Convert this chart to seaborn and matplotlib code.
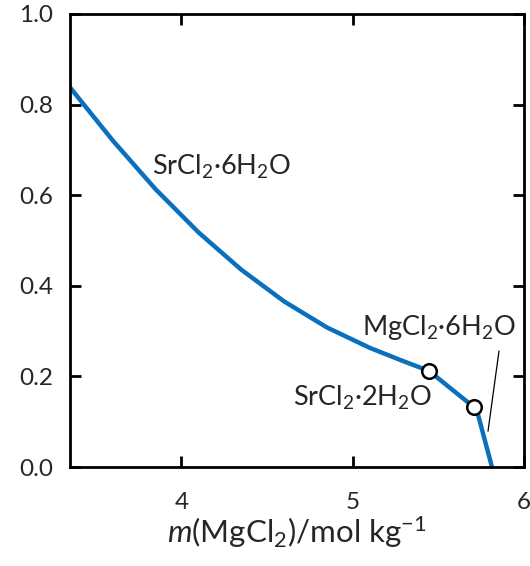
import matplotlib
matplotlib.use("Agg")
import matplotlib.pyplot as plt
import seaborn as sns
import pandas as pd

# solubility curve
m_mgcl2 = [3.35, 3.60, 3.85, 4.10, 4.35, 4.60, 4.85, 5.10, 5.30, 5.446,
           5.708, 5.732, 5.813]
m_srcl2 = [0.838, 0.7205, 0.613, 0.518, 0.4355, 0.3655, 0.308, 0.263, 0.233,
           0.212, 0.132, 0.115, 0.0]

# invariant points
inv_x = [5.446, 5.708]
inv_y = [0.212, 0.132]

# phase labels
phase_labels = [r"SrCl$_2$·6H$_2$O", r"MgCl$_2$·6H$_2$O", r"SrCl$_2$·2H$_2$O"]
label_x = [4.233, 5.504, 5.055]
label_y = [0.645, 0.291, 0.135]

# leader line for MgCl2.6H2O
leader_x = [5.854, 5.790]
leader_y = [0.256, 0.079]

sns.set_style("ticks")
plt.rcParams["font.family"] = ["Lato", "DejaVu Sans"]
plt.rcParams["mathtext.fontset"] = "custom"
plt.rcParams["mathtext.rm"] = "Lato"
plt.rcParams["mathtext.it"] = "Lato:italic"

df = pd.DataFrame({"x": m_mgcl2, "y": m_srcl2})
pts = pd.DataFrame({"x": inv_x, "y": inv_y})

fig = plt.figure(figsize=(5.3, 5.66), dpi=100)
ax = fig.add_axes([70 / 530, 99 / 566, 454 / 530, 453 / 566])

sns.lineplot(data=df, x="x", y="y", ax=ax, sort=False, color="#0a6fbd",
             linewidth=3.2, zorder=2)
sns.scatterplot(data=pts, x="x", y="y", ax=ax, s=110, facecolor="white",
                edgecolor="black", linewidth=1.8, zorder=3)
ax.plot(leader_x, leader_y, color="black", linewidth=0.9)

for txt, tx, ty in zip(phase_labels, label_x, label_y):
    ax.text(tx, ty, txt, ha="center", va="baseline", fontsize=19.5)

ax.set_xlim(3.35, 6.0)
ax.set_ylim(0, 1.0)
ax.set_xticks([4, 5, 6])
ax.set_yticks([0.0, 0.2, 0.4, 0.6, 0.8, 1.0])
ax.set_yticklabels(["0.0", "0.2", "0.4", "0.6", "0.8", "1.0"])
ax.tick_params(direction="in", length=8, width=2, top=True, right=True,
               labelsize=17.5, color="black")
ax.tick_params(axis="x", pad=18)
ax.tick_params(axis="y", pad=12)
for sp in ax.spines.values():
    sp.set_linewidth(2)
    sp.set_color("black")

ax.set_xlabel(r"$\mathit{m}$(MgCl$_2$)/mol kg$^{-1}$", fontsize=22.5, labelpad=1)
ax.set_ylabel("")

fig.savefig("out.png", dpi=100)
